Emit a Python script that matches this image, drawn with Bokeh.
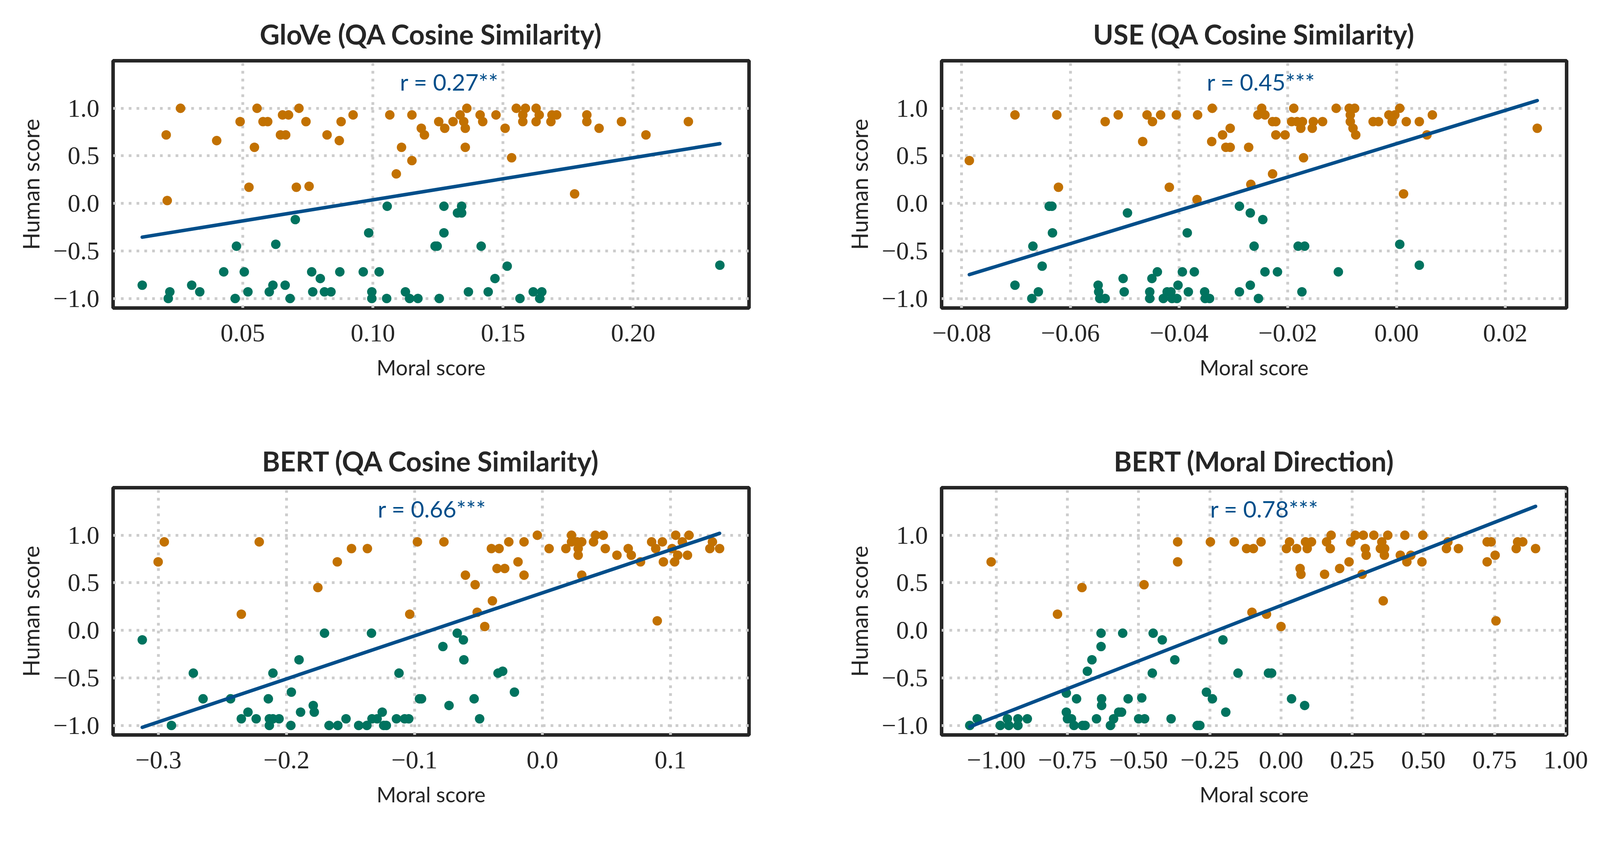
from bokeh.plotting import figure
from bokeh.layouts import gridplot
from bokeh.models import Range1d, Label
from bokeh.embed import file_html
from bokeh.resources import INLINE

# ---------------- data ----------------
# GloVe (QA Cosine Similarity)
glove_pos_x = [0.0206, 0.0210, 0.0261, 0.0400, 0.0490, 0.0524, 0.0545, 0.0555, 0.0578, 0.0596,
               0.0645, 0.0653, 0.0665, 0.0676, 0.0706, 0.0716, 0.0743, 0.0755, 0.0824, 0.0871,
               0.0878, 0.0924, 0.1065, 0.1090, 0.1110, 0.1150, 0.1150, 0.1186, 0.1198, 0.1253,
               0.1276, 0.1308, 0.1335, 0.1349, 0.1355, 0.1355, 0.1361, 0.1412, 0.1422, 0.1473,
               0.1508, 0.1533, 0.1551, 0.1576, 0.1576, 0.1586, 0.1627, 0.1627, 0.1639, 0.1684,
               0.1688, 0.1706, 0.1775, 0.1822, 0.1822, 0.1869, 0.1955, 0.2049, 0.2212]
glove_pos_y = [0.72, 0.03, 1.00, 0.66, 0.86, 0.17, 0.59, 1.00, 0.86, 0.86,
               0.72, 0.93, 0.72, 0.93, 0.17, 1.00, 0.86, 0.18, 0.72, 0.66,
               0.86, 0.93, 0.93, 0.31, 0.59, 0.45, 0.93, 0.79, 0.72, 0.86,
               0.79, 0.86, 0.93, 0.86, 0.79, 0.59, 1.00, 0.93, 0.86, 0.93,
               0.79, 0.48, 1.00, 0.93, 0.86, 1.00, 1.00, 0.86, 0.93, 0.86,
               0.93, 0.93, 0.10, 0.93, 0.86, 0.79, 0.86, 0.72, 0.86]
glove_neg_x = [0.0114, 0.0214, 0.0220, 0.0304, 0.0335, 0.0427, 0.0471, 0.0476, 0.0506, 0.0520,
               0.0602, 0.0616, 0.0627, 0.0663, 0.0682, 0.0702, 0.0765, 0.0769, 0.0798, 0.0814,
               0.0839, 0.0873, 0.0963, 0.0984, 0.0996, 0.0996, 0.1024, 0.1053, 0.1055, 0.1125,
               0.1141, 0.1173, 0.1239, 0.1247, 0.1255, 0.1273, 0.1273, 0.1325, 0.1341, 0.1341,
               0.1367, 0.1416, 0.1443, 0.1469, 0.1516, 0.1565, 0.1616, 0.1641, 0.1649, 0.2333]
glove_neg_y = [-0.86, -1.00, -0.93, -0.86, -0.93, -0.72, -1.00, -0.45, -0.72, -0.93,
               -0.93, -0.86, -0.43, -0.86, -1.00, -0.17, -0.72, -0.93, -0.79, -0.93,
               -0.93, -0.72, -0.72, -0.31, -0.93, -1.00, -0.72, -1.00, -0.03, -0.93,
               -1.00, -1.00, -0.45, -0.45, -1.00, -0.03, -0.31, -0.10, -0.03, -0.10,
               -0.93, -0.45, -0.93, -0.79, -0.66, -1.00, -0.93, -1.00, -0.93, -0.65]
glove_fit_y = [-0.355, 0.628]
glove_r = "r = 0.27**"

# USE (QA Cosine Similarity)
use_pos_x = [-0.0786, -0.0702, -0.0625, -0.0622, -0.0536, -0.0512, -0.0467, -0.0459, -0.0449, -0.0434,
             -0.0418, -0.0405, -0.0367, -0.0366, -0.0340, -0.0339, -0.0320, -0.0314, -0.0306, -0.0306,
             -0.0272, -0.0268, -0.0255, -0.0248, -0.0242, -0.0228, -0.0228, -0.0222, -0.0222, -0.0205,
             -0.0193, -0.0189, -0.0183, -0.0176, -0.0173, -0.0171, -0.0155, -0.0153, -0.0136, -0.0111,
             -0.0087, -0.0085, -0.0085, -0.0080, -0.0077, -0.0075, -0.0043, -0.0033, -0.0014, -0.0008,
             -0.0003, 0.0006, 0.0013, 0.0018, 0.0042, 0.0056, 0.0066, 0.0259]
use_pos_y = [0.45, 0.93, 0.93, 0.17, 0.86, 0.93, 0.65, 0.93, 0.86, 0.93,
             0.17, 0.93, 0.04, 0.93, 0.65, 1.00, 0.72, 0.59, 0.79, 0.59,
             0.59, 0.20, 0.93, 1.00, 0.93, 0.31, 0.86, 0.72, 0.86, 0.72,
             0.86, 1.00, 0.86, 0.79, 0.86, 0.48, 0.79, 0.86, 0.86, 1.00,
             1.00, 0.93, 0.86, 0.79, 1.00, 0.72, 0.86, 0.86, 0.93, 0.86,
             0.93, 1.00, 0.10, 0.86, 0.86, 0.72, 0.93, 0.79]
use_neg_x = [-0.0702, -0.0671, -0.0669, -0.0659, -0.0652, -0.0639, -0.0634, -0.0633, -0.0549, -0.0548,
             -0.0546, -0.0536, -0.0503, -0.0501, -0.0495, -0.0454, -0.0454, -0.0450, -0.0440, -0.0429,
             -0.0422, -0.0415, -0.0413, -0.0404, -0.0402, -0.0394, -0.0385, -0.0383, -0.0372, -0.0353,
             -0.0352, -0.0344, -0.0289, -0.0289, -0.0269, -0.0269, -0.0262, -0.0254, -0.0246, -0.0242,
             -0.0219, -0.0181, -0.0174, -0.0169, -0.0107, 0.0006, 0.0042]
use_neg_y = [-0.86, -1.00, -0.45, -0.93, -0.66, -0.03, -0.03, -0.31, -0.86, -0.93,
             -1.00, -1.00, -0.79, -0.93, -0.10, -0.93, -1.00, -0.79, -0.72, -1.00,
             -0.93, -0.93, -1.00, -1.00, -0.86, -0.72, -0.31, -0.93, -0.72, -0.93,
             -1.00, -1.00, -0.03, -0.93, -0.10, -0.86, -0.45, -1.00, -0.17, -0.72,
             -0.72, -0.45, -0.93, -0.45, -0.72, -0.43, -0.65]
use_fit_y = [-0.749, 1.081]
use_r = "r = 0.45***"

# BERT (QA Cosine Similarity)
bqa_pos_x = [-0.3003, -0.2955, -0.2353, -0.2213, -0.1755, -0.1603, -0.1492, -0.1368, -0.1037, -0.0977,
             -0.0770, -0.0602, -0.0526, -0.0510, -0.0451, -0.0399, -0.0391, -0.0355, -0.0339, -0.0295,
             -0.0263, -0.0191, -0.0144, -0.0144, -0.0040, 0.0052, 0.0183, 0.0227, 0.0227, 0.0271,
             0.0279, 0.0279, 0.0307, 0.0307, 0.0399, 0.0415, 0.0475, 0.0491, 0.0582, 0.0670,
             0.0694, 0.0766, 0.0853, 0.0885, 0.0897, 0.0937, 0.0945, 0.1013, 0.1033, 0.1041,
             0.1057, 0.1093, 0.1133, 0.1145, 0.1308, 0.1328, 0.1384]
bqa_pos_y = [0.72, 0.93, 0.17, 0.93, 0.45, 0.72, 0.86, 0.86, 0.17, 0.93,
             0.93, 0.58, 0.48, 0.19, 0.04, 0.86, 0.31, 0.65, 0.86, 0.65,
             0.93, 0.72, 0.93, 0.58, 1.00, 0.86, 0.86, 1.00, 0.93, 0.93,
             0.86, 0.79, 0.93, 0.58, 0.93, 1.00, 1.00, 0.86, 0.79, 0.86,
             0.79, 0.72, 0.93, 0.86, 0.10, 0.93, 0.72, 0.86, 0.72, 1.00,
             0.79, 0.93, 0.79, 1.00, 0.86, 0.93, 0.86]
bqa_neg_x = [-0.3127, -0.2899, -0.2728, -0.2652, -0.2437, -0.2353, -0.2301, -0.2237, -0.2142, -0.2134,
             -0.2134, -0.2106, -0.2106, -0.2058, -0.1966, -0.1962, -0.1902, -0.1890, -0.1791, -0.1783,
             -0.1703, -0.1667, -0.1599, -0.1535, -0.1436, -0.1372, -0.1336, -0.1332, -0.1292, -0.1252,
             -0.1240, -0.1220, -0.1141, -0.1121, -0.1077, -0.1045, -0.0961, -0.0945, -0.0778, -0.0730,
             -0.0666, -0.0618, -0.0614, -0.0534, -0.0491, -0.0347, -0.0311, -0.0219]
bqa_neg_y = [-0.10, -1.00, -0.45, -0.72, -0.72, -0.93, -0.86, -0.93, -0.72, -0.93,
             -1.00, -0.45, -0.93, -0.93, -1.00, -0.65, -0.31, -0.86, -0.79, -0.86,
             -0.03, -1.00, -1.00, -0.93, -1.00, -1.00, -0.03, -0.93, -0.93, -0.86,
             -1.00, -1.00, -0.93, -0.45, -0.93, -0.93, -0.72, -0.72, -0.17, -0.79,
             -0.03, -0.10, -0.31, -0.72, -0.93, -0.45, -0.43, -0.65]
bqa_fit_y = [-1.02, 1.02]
bqa_r = "r = 0.66***"

# BERT (Moral Direction)
bmd_pos_x = [-1.018, -0.785, -0.699, -0.481, -0.363, -0.363, -0.248, -0.164, -0.121, -0.102,
             -0.097, -0.070, -0.051, 0.000, 0.019, 0.030, 0.055, 0.067, 0.070, 0.086,
             0.092, 0.107, 0.153, 0.160, 0.173, 0.176, 0.206, 0.239, 0.245, 0.261,
             0.285, 0.289, 0.296, 0.299, 0.326, 0.349, 0.354, 0.359, 0.363, 0.364,
             0.375, 0.419, 0.435, 0.442, 0.456, 0.495, 0.498, 0.581, 0.586, 0.623,
             0.724, 0.724, 0.738, 0.752, 0.755, 0.826, 0.831, 0.849, 0.894]
bmd_pos_y = [0.72, 0.17, 0.45, 0.48, 0.93, 0.72, 0.93, 0.93, 0.86, 0.19,
             0.86, 0.93, 0.17, 0.04, 0.86, 0.93, 0.86, 0.65, 0.59, 0.93,
             0.86, 0.93, 0.59, 0.93, 0.86, 1.00, 0.65, 0.72, 0.93, 1.00,
             0.59, 1.00, 0.86, 0.79, 1.00, 0.86, 0.93, 0.31, 0.79, 0.86,
             1.00, 0.79, 1.00, 0.72, 0.79, 0.72, 1.00, 0.86, 0.93, 0.86,
             0.72, 0.93, 0.93, 0.79, 0.10, 0.86, 0.93, 0.93, 0.86]
bmd_neg_x = [-1.093, -1.067, -0.986, -0.961, -0.956, -0.924, -0.924, -0.891, -0.754, -0.754,
             -0.750, -0.736, -0.727, -0.718, -0.697, -0.688, -0.680, -0.664, -0.648, -0.632,
             -0.632, -0.630, -0.630, -0.599, -0.588, -0.570, -0.560, -0.556, -0.537, -0.500,
             -0.489, -0.479, -0.452, -0.449, -0.417, -0.386, -0.373, -0.294, -0.285, -0.262,
             -0.241, -0.204, -0.194, -0.151, -0.044, -0.033, 0.037, 0.083]
bmd_neg_y = [-1.00, -0.93, -1.00, -0.93, -1.00, -0.93, -1.00, -0.93, -0.66, -0.86,
             -0.93, -0.93, -1.00, -0.72, -1.00, -1.00, -0.43, -0.31, -0.93, -0.03,
             -0.17, -0.72, -0.79, -1.00, -0.93, -0.86, -0.86, -0.03, -0.72, -0.93,
             -0.71, -0.93, -0.45, -0.03, -0.10, -0.93, -0.31, -1.00, -1.00, -0.65,
             -0.72, -0.10, -0.86, -0.45, -0.45, -0.45, -0.72, -0.79]
bmd_fit_y = [-1.014, 1.304]
bmd_r = "r = 0.78***"

y_ticks = [-1.0, -0.5, 0.0, 0.5, 1.0]
y_tick_labels = ["\u22121.0", "\u22120.5", "0.0", "0.5", "1.0"]

glove_xticks = [0.05, 0.10, 0.15, 0.20]
glove_xlabels = ["0.05", "0.10", "0.15", "0.20"]
use_xticks = [-0.08, -0.06, -0.04, -0.02, 0.0, 0.02]
use_xlabels = ["\u22120.08", "\u22120.06", "\u22120.04", "\u22120.02", "0.00", "0.02"]
bqa_xticks = [-0.3, -0.2, -0.1, 0.0, 0.1]
bqa_xlabels = ["\u22120.3", "\u22120.2", "\u22120.1", "0.0", "0.1"]
bmd_xticks = [-1.0, -0.75, -0.5, -0.25, 0.0, 0.25, 0.5, 0.75, 1.0]
bmd_xlabels = ["\u22121.00", "\u22120.75", "\u22120.50", "\u22120.25", "0.00", "0.25", "0.50", "0.75", "1.00"]

# ---------------- style ----------------
ORANGE = "#C27100"
GREEN = "#00735F"
BLUE = "#004E8A"
DARK = "#262626"
GRIDC = "#CCCCCC"
SANS = "Lato"
SERIF = "Liberation Serif"
FX = 0.875   # horizontal scale of the layout
FY = 0.98    # vertical scale of the layout
FF = 0.9     # scale of strokes and marks


def sx(v):
    return int(round(v * FX))


def sy(v):
    return int(round(v * FY))


def make_panel(title, pos_x, pos_y, neg_x, neg_y, fit_y, r_text, xr, xticks, xlabels,
               r_x, width, height, borders):
    left, right, top, bottom = borders
    p = figure(width=width, height=height, x_range=Range1d(*xr), y_range=Range1d(-1.1, 1.5),
               output_backend="svg", toolbar_location=None,
               min_border_left=left, min_border_right=right,
               min_border_top=top, min_border_bottom=bottom)
    p.background_fill_color = "white"
    p.border_fill_color = "white"
    p.outline_line_color = DARK
    p.outline_line_width = 10 * FF

    p.title.text = title
    p.title.align = "center"
    p.title.text_font = SANS
    p.title.text_font_size = "70px"
    p.title.text_font_style = "bold"
    p.title.text_color = DARK
    p.title.standoff = sy(55)

    for ax in (p.xaxis[0], p.yaxis[0]):
        ax.axis_line_color = None
        ax.major_tick_line_color = None
        ax.minor_tick_line_color = None
        ax.major_tick_out = 0
        ax.major_tick_in = 0
        ax.major_label_text_font = SERIF
        ax.major_label_text_font_size = "65px"
        ax.major_label_text_color = DARK
        ax.axis_label_text_font = SANS
        ax.axis_label_text_font_style = "normal"
        ax.axis_label_text_color = DARK

    p.xaxis.ticker = xticks
    p.xaxis.major_label_overrides = dict(zip(xticks, xlabels))
    p.xaxis.major_label_standoff = sy(43)
    p.xaxis.axis_label = "Moral score"
    p.xaxis.axis_label_text_font_size = "54px"
    p.xaxis.axis_label_standoff = sy(32)

    p.yaxis.ticker = y_ticks
    p.yaxis.major_label_overrides = dict(zip(y_ticks, y_tick_labels))
    p.yaxis.major_label_standoff = sx(40)
    p.yaxis.axis_label = "Human score"
    p.yaxis.axis_label_text_font_size = "58px"
    p.yaxis.axis_label_standoff = sx(24)

    p.grid.grid_line_color = GRIDC
    p.grid.grid_line_width = 8 * FF
    p.grid.grid_line_dash = "%d %d" % (round(8 * FF), round(14 * FF))

    p.scatter(pos_x, pos_y, size=27 * FF, fill_color=ORANGE, line_color=None)
    p.scatter(neg_x, neg_y, size=27 * FF, fill_color=GREEN, line_color=None)

    all_x = list(pos_x) + list(neg_x)
    fit_x = [min(all_x), max(all_x)]
    p.line(fit_x, fit_y, line_width=10 * FF, line_color=BLUE, line_cap="round")

    p.add_layout(Label(x=r_x, y=1.28, text=r_text, text_font=SANS, text_font_size="59px",
                       text_color=BLUE, text_align="left", text_baseline="alphabetic"))
    return p


p1 = make_panel("GloVe (QA Cosine Similarity)", glove_pos_x, glove_pos_y, glove_neg_x, glove_neg_y,
                glove_fit_y, glove_r, (0.0002, 0.2445), glove_xticks, glove_xlabels,
                0.1104, 2040, 1058, (289, 123, 155, 270))
p2 = make_panel("USE (QA Cosine Similarity)", use_pos_x, use_pos_y, use_neg_x, use_neg_y,
                use_fit_y, use_r, (-0.0837, 0.0313), use_xticks, use_xlabels,
                -0.0349, 2030, 1058, (370, 34, 155, 270))
p3 = make_panel("BERT (QA Cosine Similarity)", bqa_pos_x, bqa_pos_y, bqa_neg_x, bqa_neg_y,
                bqa_fit_y, bqa_r, (-0.3355, 0.1614), bqa_xticks, bqa_xlabels,
                -0.1287, 2040, 1048, (289, 123, 190, 225))
p4 = make_panel("BERT (Moral Direction)", bmd_pos_x, bmd_pos_y, bmd_neg_x, bmd_neg_y,
                bmd_fit_y, bmd_r, (-1.192, 1.003), bmd_xticks, bmd_xlabels,
                -0.249, 2030, 1048, (342, 60, 190, 225))

grid = gridplot([[p1, p2], [p3, p4]], toolbar_location=None)

with open("out.html", "w") as f:
    f.write(file_html(grid, INLINE))
